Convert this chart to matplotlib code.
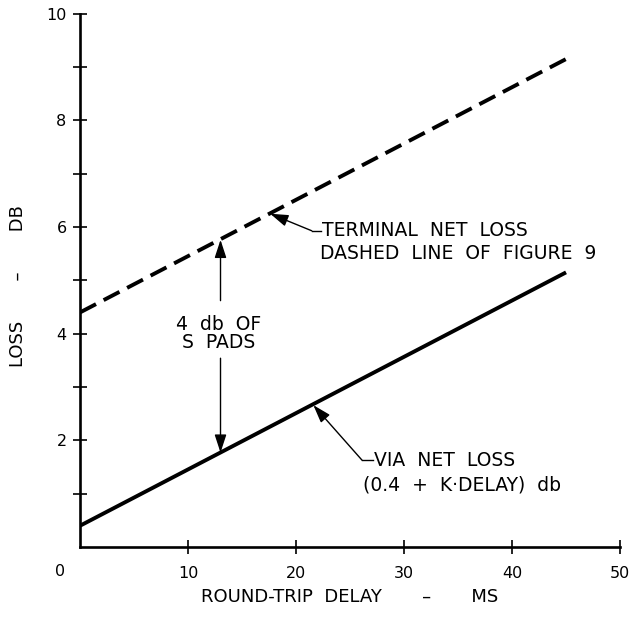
import numpy as np
import matplotlib
matplotlib.use('Agg')
import matplotlib.pyplot as plt

# data
delay = [0, 45]
via_loss = [0.4, 5.15]          # solid line
terminal_loss = [4.4, 9.15]     # dashed line

x_ticks = [10, 20, 30, 40, 50]
x_ticklabels = ['10', '20', '30', '40', '50']
y_ticks = [1, 2, 3, 4, 5, 6, 7, 8, 9, 10]
y_ticklabels = ['', '2', '', '4', '', '6', '', '8', '', '10']

plt.rcParams['font.family'] = ['DejaVu Sans']

fig = plt.figure(figsize=(6.31, 6.19), dpi=100)
ax = fig.add_axes([0.127, 0.1163, 0.8556, 0.8615])

ax.plot(delay, via_loss, color='black', lw=2.8, solid_capstyle='butt')
ax.plot(delay, terminal_loss, color='black', lw=2.8, dashes=(4.6, 2.21),
        dash_capstyle='butt')

ax.set_xlim(0, 50)
ax.set_ylim(0, 10)
for s in ['top', 'right']:
    ax.spines[s].set_visible(False)
for s in ['left', 'bottom']:
    ax.spines[s].set_linewidth(1.9)

ax.set_xticks(x_ticks)
ax.set_xticklabels(x_ticklabels)
ax.set_yticks(y_ticks)
ax.set_yticklabels(y_ticklabels)
ax.tick_params(direction='inout', length=9.5, width=1.2, labelsize=11.5)
ax.tick_params(axis='x', pad=9)
ax.tick_params(axis='y', pad=5)
ax.text(-1.9, -0.45, '0', ha='center', va='center', fontsize=11.5)

ax.set_xlabel('ROUND-TRIP  DELAY       –       MS', fontsize=13, labelpad=5)
ax.set_ylabel('LOSS       –       DB', fontsize=13)
ax.yaxis.set_label_coords(-0.098, 0.49)

head = dict(arrowstyle='-|>,head_length=0.55,head_width=0.18',
            mutation_scale=20, color='black', lw=1.0, shrinkA=0, shrinkB=0)
fs = 13.5

# terminal net loss leader
ax.annotate('', xy=(17.6, 6.25), xytext=(21.45, 5.93), arrowprops=head)
ax.plot([21.45, 22.3], [5.93, 5.93], color='black', lw=1.0)
ax.text(22.4, 5.93, 'TERMINAL  NET  LOSS', fontsize=fs, va='center')
ax.text(22.2, 5.51, 'DASHED  LINE  OF  FIGURE  9', fontsize=fs, va='center')

# via net loss leader
ax.annotate('', xy=(21.6, 2.66), xytext=(26.1, 1.63), arrowprops=head)
ax.plot([26.1, 27.1], [1.63, 1.63], color='black', lw=1.0)
ax.text(27.2, 1.63, 'VIA  NET  LOSS', fontsize=fs, va='center')
ax.text(26.2, 1.16, '(0.4  +  K·DELAY)  db', fontsize=fs, va='center')

# 4 db of S pads
ax.annotate('', xy=(13, 5.76), xytext=(13, 4.62), arrowprops=head)
ax.annotate('', xy=(13, 1.77), xytext=(13, 3.54), arrowprops=head)
ax.text(12.8, 4.18, '4  db  OF', fontsize=fs, ha='center', va='center')
ax.text(12.8, 3.83, 'S  PADS', fontsize=fs, ha='center', va='center')

fig.savefig('out.png', dpi=100)
